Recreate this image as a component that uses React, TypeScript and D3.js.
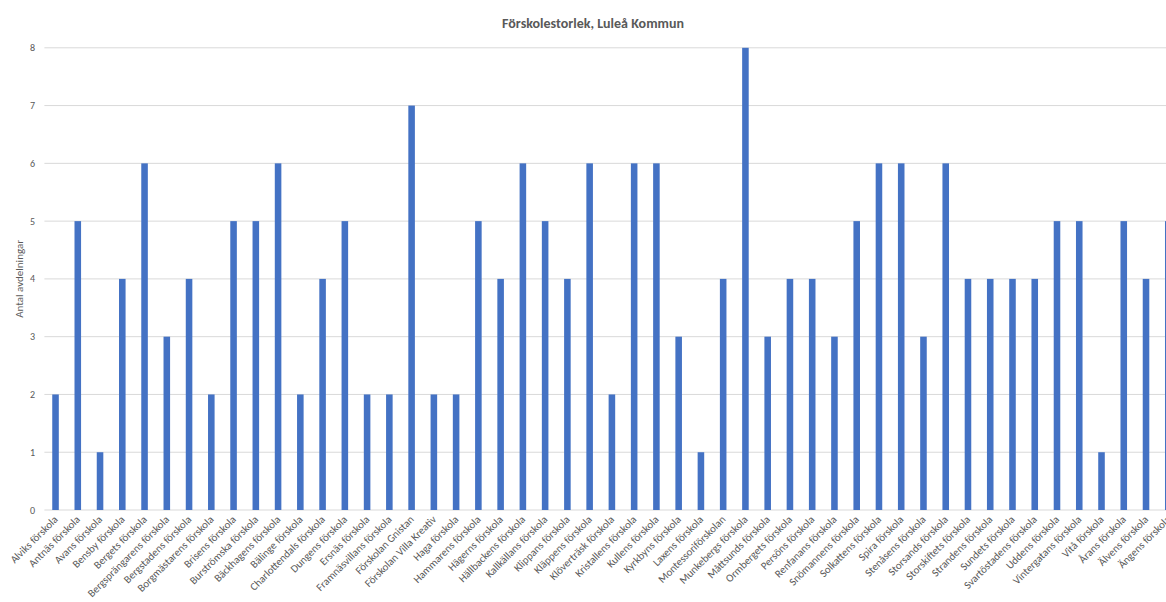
import React from "react";
import * as d3 from "d3";

const categories: string[] = [
  "Alviks förskola", "Antnäs förskola", "Avans förskola", "Bensby förskola", "Bergets förskola",
  "Bergsprängarens förskola", "Bergstadens förskola", "Borgmästarens förskola", "Brisens förskola",
  "Burströmska förskola", "Bäckhagens förskola", "Bälinge förskola", "Charlottendals förskola",
  "Dungens förskola", "Ersnäs förskola", "Framnäsvillans förskola", "Förskolan Gnistan",
  "Förskolan Villa Kreativ", "Haga förskola", "Hammarens förskola", "Hägerns förskola",
  "Hällbackens förskola", "Kallkällans förskola", "Klippans förskola", "Kläppens förskola",
  "Klöverträsk förskola", "Kristallens förskola", "Kullens förskola", "Kyrkbyns förskola",
  "Laxens förskola", "Montessoriförskolan", "Munkebergs förskola", "Måttsunds förskola",
  "Ormbergets förskola", "Persöns förskola", "Renfanans förskola", "Snömannens förskola",
  "Solkattens förskola", "Spira förskola", "Stenåsens förskola", "Storsands förskola",
  "Storskiftets förskola", "Strandens förskola", "Sundets förskola", "Svartöstadens förskola",
  "Uddens förskola", "Vintergatans förskola", "Vitå förskola", "Årans förskola",
  "Älvens förskola", "Ängens förskola",
];

const values: number[] = [
  2, 5, 1, 4, 6, 3, 4, 2, 5, 5, 6, 2, 4, 5, 2, 2, 7, 2, 2, 5, 4, 6, 5, 4, 6, 2, 6, 6, 3, 1,
  4, 8, 3, 4, 4, 3, 5, 6, 6, 3, 6, 4, 4, 4, 4, 5, 5, 1, 5, 4, 5,
];

const yTicks: number[] = [0, 1, 2, 3, 4, 5, 6, 7, 8];

const title = "Förskolestorlek, Luleå Kommun";
const yTitle = "Antal avdelningar";

const W = 1166;
const H = 602;
const plotLeft = 44.4;
const plotRight = 1179.4;
const plotTop = 47.8;
const plotBottom = 510;

export default function App() {
  const x = d3
    .scaleBand<string>()
    .domain(categories)
    .range([plotLeft, plotRight])
    .paddingInner(0.705)
    .paddingOuter(0.3525);
  const y = d3.scaleLinear().domain([0, 8]).range([plotBottom, plotTop]);
  const font = "Calibri, Carlito, 'Open Sans', sans-serif";
  const textColor = "#595959";

  return (
    <svg
      width={W}
      height={H}
      style={{ position: "absolute", left: 0, top: 0, background: "#fff" }}
      fontFamily={font}
    >
      <text x={593} y={28} textAnchor="middle" fontSize={14} fontWeight={600} fill={textColor}>
        {title}
      </text>
      {yTicks.map((t) => (
        <g key={t}>
          <line x1={plotLeft} x2={W} y1={y(t)} y2={y(t)} stroke="#d9d9d9" strokeWidth={1} />
          <text x={35} y={y(t)} dy="0.35em" textAnchor="end" fontSize={10} fill={textColor}>
            {t}
          </text>
        </g>
      ))}
      <text
        transform={`translate(19,${(plotTop + plotBottom) / 2}) rotate(-90)`}
        textAnchor="middle"
        dy="0.35em"
        fontSize={11}
        fill={textColor}
      >
        {yTitle}
      </text>
      {categories.map((c, i) => (
        <rect
          key={c}
          x={x(c)!}
          y={y(values[i])}
          width={x.bandwidth()}
          height={plotBottom - y(values[i])}
          fill="#4472C4"
        />
      ))}
      {categories.map((c) => {
        const cx = x(c)! + x.bandwidth() / 2;
        return (
          <text
            key={c}
            transform={`translate(${cx + 3},${plotBottom + 10}) rotate(-45)`}
            textAnchor="end"
            fontSize={10.8}
            fill={textColor}
          >
            {c}
          </text>
        );
      })}
    </svg>
  );
}
